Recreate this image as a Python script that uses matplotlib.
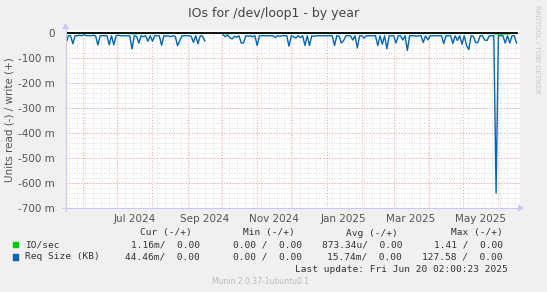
import datetime as dt
import numpy as np
import matplotlib
matplotlib.use('Agg')
import matplotlib.pyplot as plt
import matplotlib.dates as mdates
from matplotlib.patches import Rectangle, Polygon

nan = np.nan

# Req Size (KB), read side, one value every 2 days from 2024-05-17 (milli units)
req_size = [
    -43, -11, -11, -43, -11, -11, -9, -11, -7, -11,
    -11, -11, -9, -11, -48, -11, -11, -11, -11, -47,
    -11, -47, -11, -9, -11, -11, -11, -11, -11, -64,
    -11, -13, -40, -11, -15, -11, -33, -11, -33, -11,
    -11, -11, -49, -11, -13, -11, -15, -11, -13, -51,
    -30, -11, -11, -11, -11, -13, -37, -11, -43, -11,
    -13, -32, nan, nan, nan, nan, nan, nan, nan, -7,
    -15, -8, -18, -24, -13, -17, -11, -40, -40, -11,
    -13, -11, -15, -11, -50, -11, -11, -11, -11, -11,
    -11, -11, -18, -11, -13, -11, -11, -11, -53, -11,
    -15, -20, -11, -18, -11, -50, -11, -50, -11, -13,
    -11, -11, -11, -11, -11, -11, -11, -11, -50, -11,
    -13, -40, -30, -11, -11, -11, -28, -11, -60, -11,
    -11, -20, -11, -11, -11, -11, -11, -50, -11, -45,
    -11, -63, -11, -11, -11, -40, -11, -11, -28, -11,
    -70, -11, -11, -11, -13, -11, -11, -38, -11, -28,
    -11, -11, -11, -11, -11, -11, -42, -11, -11, -11,
    -42, -11, -30, -11, -45, -11, -50, -66, -11, -13,
    -38, -38, -11, -11, -28, -30, -11, -11, -11, -640,
    -11, -11, -11, -40, -11, -40, -11, -11, -40,
]

# IO/sec, read side, one value every 10 days
io_sec = [
    0, 0, 0, 0, 0, 0, -4, 0, 0, 0,
    0, 0, 0, nan, -4, 0, 0, 0, 0, 0,
    0, 0, 0, 0, 0, 0, 0, 0, 0, 0,
    0, 0, 0, 0, 0, 0, 0, 0, -5, -4,
]

start = dt.datetime(2024, 5, 17)
end = dt.datetime(2025, 6, 20)
req_dates = [start + dt.timedelta(days=2 * i) for i in range(len(req_size))]
io_dates = [start + dt.timedelta(days=10 * i) for i in range(len(io_sec))]

y_ticks = [0, -100, -200, -300, -400, -500, -600, -700]
y_labels = ['0', '-100 m', '-200 m', '-300 m', '-400 m', '-500 m', '-600 m', '-700 m']

legend_rows = [
    ('IO/sec', '#00CC00', '1.16m/  0.00', '0.00 /  0.00', '873.34u/  0.00', '1.41 /  0.00'),
    ('Req Size (KB)', '#0066B3', '44.46m/  0.00', '0.00 /  0.00', '15.74m/  0.00', '127.58 /  0.00'),
]
headers = ['Cur (-/+)', 'Min (-/+)', 'Avg (-/+)', 'Max (-/+)']

W, H = 547, 292
bg = '#F0F0F0'
fig = plt.figure(figsize=(W / 100, H / 100), dpi=100, facecolor=bg)


def fx(px):
    return px / W


def fy(py):
    return 1 - py / H


left, right, top, bottom = 66, 520, 30, 208
ax = fig.add_axes([fx(left), fy(bottom), fx(right - left), (bottom - top) / H])
ax.set_facecolor('white')
ax.set_xlim(start, end)
ax.set_ylim(-700, 12)
for s in ax.spines.values():
    s.set_visible(False)

# grid
minor_x = mdates.WeekdayLocator(byweekday=mdates.MO).tick_values(start, end)
major_x = mdates.MonthLocator().tick_values(start, end)
dots = (0, (1, 2))
ax.vlines(minor_x, -700, 0, colors='#D4D4D4', linestyles=dots, linewidth=0.6)
ax.hlines(np.arange(-700, 1, 20), start, end, colors='#D4D4D4', linestyles=dots, linewidth=0.6)
ax.vlines(major_x, -700, 0, colors='#F0A0A0', linestyles=dots, linewidth=0.7)
ax.hlines(y_ticks, start, end, colors='#F0A0A0', linestyles=dots, linewidth=0.7)

ax.plot(io_dates, io_sec, color='#00CC00', linewidth=0.8, zorder=2)
ax.plot(req_dates, req_size, color='#0066B3', linewidth=1.0, zorder=3)
ax.plot([start, req_dates[-1]], [0, 0], color='black', linewidth=1.3, zorder=4)

# axes lines with small arrow heads
axis_col = '#C8C8F0'
fig.add_artist(plt.Line2D([fx(left - 0.5)] * 2, [fy(bottom + 3), fy(top - 1)], color=axis_col, linewidth=0.8))
fig.add_artist(plt.Line2D([fx(left - 4), fx(right - 2)], [fy(bottom)] * 2, color=axis_col, linewidth=0.8))
fig.add_artist(Polygon([(fx(left - 4), fy(top - 1)), (fx(left + 3), fy(top - 1)), (fx(left - 0.5), fy(top - 7))],
                       closed=True, transform=fig.transFigure, color=axis_col, linewidth=0))
fig.add_artist(Polygon([(fx(right - 2), fy(bottom - 3.5)), (fx(right - 2), fy(bottom + 3.5)), (fx(right + 4), fy(bottom))],
                       closed=True, transform=fig.transFigure, color=axis_col, linewidth=0))

ax.set_yticks(y_ticks)
ax.set_yticklabels(y_labels)
ax.xaxis.set_major_locator(mdates.MonthLocator(bymonth=[1, 3, 5, 7, 9, 11], bymonthday=16))
ax.xaxis.set_major_formatter(mdates.DateFormatter('%b %Y'))
ax.tick_params(axis='both', length=0, labelsize=7.5, labelcolor='#555555')
ax.tick_params(axis='x', pad=4)
ax.tick_params(axis='y', pad=8)

fig.text(0.5, fy(13), 'IOs for /dev/loop1 - by year', ha='center', va='center',
         fontsize=9, color='#444444')
fig.text(fx(10), fy(120), 'Units read (-) / write (+)', rotation=90, ha='center', va='center',
         fontsize=7.5, color='#555555')
fig.text(fx(537), fy(5), 'RRDTOOL / TOBI OETIKER', rotation=270, ha='center', va='top',
         fontsize=5, color='#C8C8C8')

mono = dict(family='DejaVu Sans Mono', fontsize=6.8, color='#333333', va='center')
col_right = [192, 295, 398, 503]
for h, xr in zip(headers, col_right):
    fig.text(fx(xr), fy(233), h, ha='right', **mono)
col_val = [200, 302, 402, 503]
for i, row in enumerate(legend_rows):
    yy = fy(244.5 + 12.3 * i)
    fig.patches.append(Rectangle((fx(13), yy - 2.7 / H), 5 / W, 5.5 / H,
                                 transform=fig.transFigure, color=row[1]))
    fig.text(fx(25), yy, row[0], ha='left', **mono)
    for v, xr in zip(row[2:], col_val):
        fig.text(fx(xr), yy, v, ha='right', **mono)

fig.text(fx(508), fy(269), 'Last update: Fri Jun 20 02:00:23 2025', ha='right', **mono)
fig.text(fx(261), fy(281), 'Munin 2.0.37-1ubuntu0.1', ha='center', va='center',
         fontsize=5.5, color='#BBBBBB')

fig.savefig('out.png', dpi=100, facecolor=bg)
